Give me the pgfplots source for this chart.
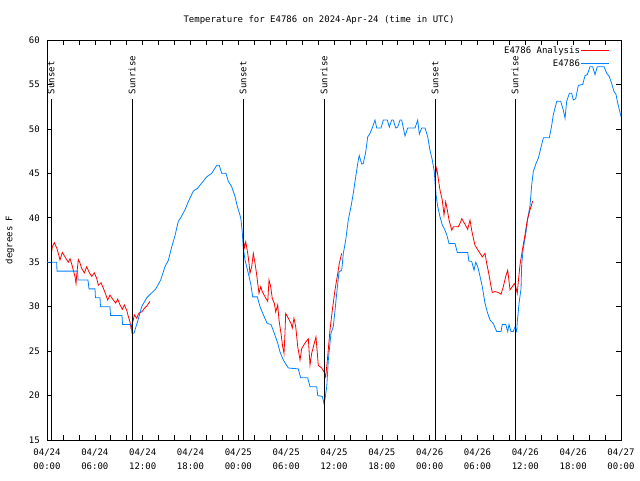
\documentclass[border=0pt]{standalone}
\usepackage{fontspec}
\setmainfont{DejaVu Sans Mono}
\usepackage{pgfplots}
\pgfplotsset{compat=1.18}
\definecolor{anared}{RGB}{255,0,0}
\definecolor{obsblue}{RGB}{0,128,255}
\begin{document}
\begin{tikzpicture}[font=\fontsize{9}{11}\selectfont]
\path[use as bounding box] (-47pt,-40pt) rectangle (593pt,440pt);
\begin{axis}[
  scale only axis, width=574pt, height=400pt,
  xmin=0, xmax=72, ymin=15, ymax=60,
  axis line style={line width=0.8pt},
  xtick={0,6,...,72},
  xticklabels={{04/24\\00:00},{04/24\\06:00},{04/24\\12:00},{04/24\\18:00},{04/25\\00:00},{04/25\\06:00},{04/25\\12:00},{04/25\\18:00},{04/26\\00:00},{04/26\\06:00},{04/26\\12:00},{04/26\\18:00},{04/27\\00:00}},
  minor x tick num=2,
  ytick={15,20,...,60},
  tick align=inside,
  major tick length=5pt, minor tick length=5pt,
  tick style={black, line width=0.6pt},
  xticklabel style={align=center, anchor=north, inner sep=0pt, yshift=-9pt, font=\fontsize{9}{14}\selectfont},
  yticklabel style={anchor=east, inner sep=0pt, xshift=-7pt},
  /pgf/number format/assume math mode=true,
  legend style={at={(1,1)}, anchor=north east, xshift=-8pt, yshift=-3pt, draw=none, fill=none, row sep=3pt, nodes={inner sep=1pt}},
  legend cell align=right,
  legend plot pos=right,
  legend image code/.code={\draw[#1] (0pt,0pt) -- (28pt,0pt);},
  clip=false,
]
% Analysis (red)
\addplot[anared, line width=0.8pt] coordinates {
(0.59,36.2)(0.66,36.75)(0.92,37.2)(1.22,36.6)(1.42,36)(1.63,35.25)(1.92,36.1)(2.26,35.6)(2.67,35)(2.89,35.4)
(3.10,34.8)(3.30,34.1)(3.51,33.4)(3.64,32.6)(3.73,33.6)(3.93,35.3)(4.14,34.9)(4.35,34.3)(4.68,33.8)(4.98,34.5)
(5.27,33.9)(5.61,33.4)(5.93,33.8)(6.23,33.2)(6.44,32.4)(6.77,32.7)(7.06,32.1)(7.36,31.4)(7.61,30.75)(7.90,31.3)
(8.32,30.75)(8.62,30.4)(8.87,30.85)(9.16,30.2)(9.45,29.7)(9.70,30.2)(10.00,29.6)(10.20,28.9)(10.41,28.3)(10.54,27.6)
(10.70,28.1)(10.83,28.5)(10.95,29.1)(11.25,28.7)(11.54,29.3)(11.88,29.4)(12.21,29.8)(12.54,30.1)(12.92,30.6)};
\addlegendentry{E4786 Analysis}
% Observed (blue)
\addplot[obsblue, line width=0.8pt] coordinates {
(0,35)(1.22,35)(1.25,34)(3.85,34)(3.89,33)(5.14,33)(5.27,32)(6.02,32)(6.08,31)(6.65,31)(6.71,30)(7.90,30)(7.97,29)
(9.41,29)(9.47,28)(10.54,28)(10.66,27)(10.91,27)(11.42,28.5)(11.88,30)(12.51,31)(13.64,32)(14.26,33)(14.80,34.5)
(15.22,35.2)(15.64,36.7)(16.06,38)(16.47,39.6)(16.77,40)(17.31,40.9)(17.72,41.8)(18.35,43)(18.85,43.3)(19.41,43.9)
(20.03,44.6)(20.66,45)(21.29,45.9)(21.61,45.9)(21.91,45)(22.45,45)(22.74,44.1)(23.17,43.5)(23.58,42.4)(23.87,41.3)
(24.21,40.3)(24.34,39.75)(24.50,38.3)(24.62,36.6)(24.84,35.25)(25.25,33.75)(25.55,32.6)(25.80,31.1)(26.38,31.1)
(26.72,30)(27.13,29.1)(27.63,28.1)(28.10,28)(28.51,27)(28.94,25.9)(29.23,24.9)(29.64,24)(30.27,23.1)(31.52,23)
(31.82,22)(32.70,22)(32.99,21)(33.83,21)(33.96,20)(34.53,19.9)(34.75,19.1)(34.87,19.6)(35.09,21)(35.29,24)
(35.62,27)(35.91,27.75)(36.13,29.6)(36.34,31.5)(36.63,33.9)(36.97,34.1)(37.17,36)(37.47,37.5)(37.79,39.75)
(38.13,41.25)(38.42,42.75)(38.72,44.6)(39.05,46.5)(39.17,47)(39.47,46.05)(39.67,46.1)(39.98,47.4)(40.23,49.1)
(40.52,49.5)(40.80,50.1)(41.14,51)(41.36,50.1)(41.90,50.1)(42.19,51)(42.69,51)(42.94,50.2)(43.24,51)(43.44,51)
(43.74,50.1)(43.99,50.2)(44.28,51)(44.49,51)(44.91,49.2)(45.25,50.1)(46.16,50.1)(46.50,51)(46.70,49.4)(47.00,50.1)
(47.42,50.1)(47.76,49.1)(48.04,47.6)(48.33,46.5)(48.58,45.2)(48.67,44)(48.80,42.6)(49.01,41.25)(49.30,40.1)
(49.58,39.2)(49.92,38.6)(50.14,38.1)(50.43,37.1)(51.18,37.1)(51.47,36.1)(52.77,36.1)(52.93,35.1)(53.27,35.1)
(53.56,34.1)(53.78,35)(54.03,34.5)(54.32,33.4)(54.60,32.25)(54.94,30.4)(55.23,29.4)(55.57,28.5)(55.98,28.1)
(56.41,27.2)(56.95,27.2)(57.11,28)(57.54,28)(57.79,27.2)(57.95,28)(58.20,27.2)(58.49,27.2)(58.70,27.7)(58.92,27.2)
(58.99,28.3)(59.24,30.6)(59.46,32)(59.54,34.7)(59.75,36.6)(60.09,38.4)(60.30,39.9)(60.59,41.4)(60.80,43.7)
(61.00,45.2)(61.34,46.1)(61.63,46.7)(61.93,47.8)(62.26,49)(63.01,49)(63.31,50.4)(63.51,51.6)(63.94,53.1)(64.44,53.1)
(64.77,52.1)(64.98,51.2)(65.19,53.1)(65.52,54)(65.82,54)(66.02,53.25)(66.32,53.4)(66.65,54.9)(67.20,55)(67.49,56)
(67.77,56.1)(68.11,57)(68.45,57)(68.74,56.1)(69.03,57)(69.87,57)(70.21,56.25)(70.53,55.9)(70.83,55.1)(71.12,54.2)
(71.37,53.9)(71.54,53.1)(71.75,52.3)(72.00,51.4)};
\addlegendentry{E4786}
\addplot[anared, line width=0.8pt, forget plot] coordinates {
(24.62,37.7)(24.75,36.6)(24.93,37.3)(25.18,36)(25.34,34.9)(25.46,33.75)(25.68,34.5)(25.88,36)(26.09,34.9)(26.30,33.6)
(26.59,31.5)(26.81,32.25)(27.01,31.7)(27.35,31.1)(27.69,30.6)(27.85,33)(28.06,32.25)(28.26,30.9)(28.51,30.4)(28.69,29.4)
(28.94,30.2)(29.10,28.5)(29.35,27)(29.56,25.5)(29.73,24.75)(29.85,27)(29.94,29.25)(30.27,28.7)(30.61,28.1)(30.77,27.6)
(30.98,28.7)(31.20,27.75)(31.45,25.5)(31.74,24)(31.95,25.3)(32.36,25.9)(32.78,26.4)(32.99,23.4)(33.20,24.75)(33.53,25.9)
(33.74,26.6)(33.91,24.75)(34.03,23.4)(34.46,23.1)(34.79,22.6)(34.96,22.1)(35.21,24.4)(35.50,27.4)(35.79,29.6)(36.13,31.9)
(36.47,33.75)(36.67,34.9)(36.97,36)};
\addplot[anared, line width=0.8pt, forget plot] coordinates {
(48.67,44.6)(48.88,45.6)(49.08,44.4)(49.30,43.1)(49.58,42)(49.80,40.3)(50.01,41.8)(50.21,40.9)(50.43,39.75)(50.77,38.6)
(50.97,39)(51.60,39)(51.82,39.4)(52.03,39.9)(52.35,39.4)(52.77,38.7)(53.06,39.75)(53.27,38.6)(53.48,37.7)(53.69,36.9)
(54.03,36.4)(54.32,36)(54.60,35.6)(54.94,36)(55.15,34.9)(55.44,33.6)(55.70,32.25)(55.86,31.6)(56.19,31.7)(56.61,31.6)
(56.95,31.4)(57.24,32.25)(57.54,33.4)(57.79,34.1)(58.08,31.9)(58.37,32.25)(58.62,32.6)(58.79,32.25)(58.99,31.5)(59.12,32.8)
(59.33,34.7)(59.67,36.6)(59.96,38.1)(60.25,39.75)(60.59,40.9)(60.93,41.9)};
% sunrise / sunset markers
\addplot[black, line width=0.8pt, forget plot] coordinates {(0.50,15)(0.50,53.36)};
\addplot[black, line width=0.8pt, forget plot] coordinates {(10.66,15)(10.66,53.36)};
\addplot[black, line width=0.8pt, forget plot] coordinates {(24.59,15)(24.59,53.36)};
\addplot[black, line width=0.8pt, forget plot] coordinates {(34.75,15)(34.75,53.36)};
\addplot[black, line width=0.8pt, forget plot] coordinates {(48.67,15)(48.67,53.36)};
\addplot[black, line width=0.8pt, forget plot] coordinates {(58.70,15)(58.70,53.36)};
\node[rotate=90, anchor=west, inner sep=0pt] at (axis cs:0.50,53.9) {Sunset};
\node[rotate=90, anchor=west, inner sep=0pt] at (axis cs:10.66,53.9) {Sunrise};
\node[rotate=90, anchor=west, inner sep=0pt] at (axis cs:24.59,53.9) {Sunset};
\node[rotate=90, anchor=west, inner sep=0pt] at (axis cs:34.75,53.9) {Sunrise};
\node[rotate=90, anchor=west, inner sep=0pt] at (axis cs:48.67,53.9) {Sunset};
\node[rotate=90, anchor=west, inner sep=0pt] at (axis cs:58.70,53.9) {Sunrise};
\end{axis}
\node at (272pt,420pt) {Temperature for E4786 on 2024-Apr-24 (time in UTC)};
\node[rotate=90] at (-37pt,200pt) {degrees F};
\end{tikzpicture}
\end{document}
